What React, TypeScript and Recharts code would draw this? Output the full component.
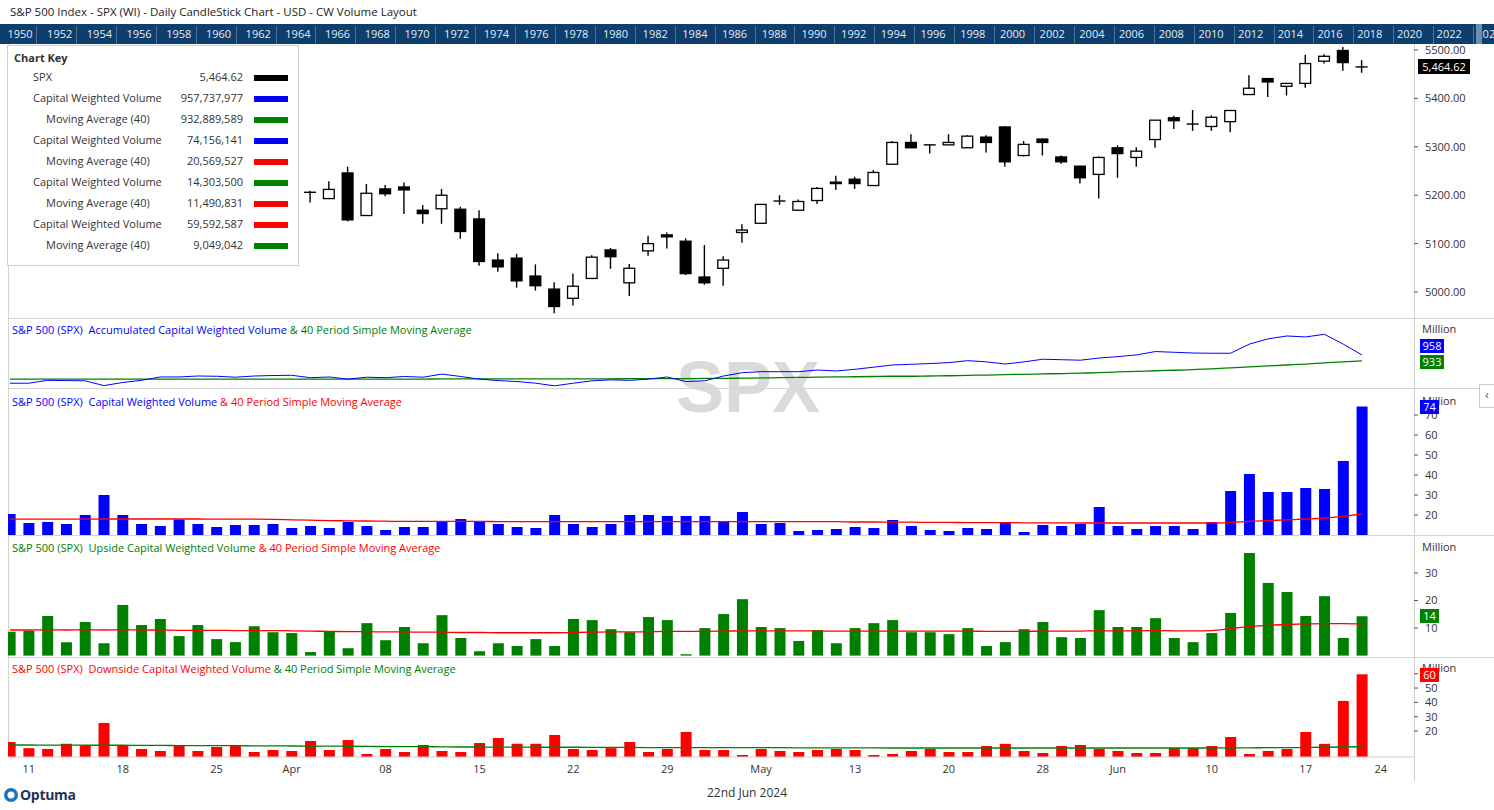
import React from 'react';
import { ComposedChart, Bar, Line, XAxis, YAxis } from 'recharts';

const FONT = "'Open Sans', 'Noto Sans', sans-serif";
const W = 1494;
const AXIS_W = 80;
const X_DOMAIN: [number, number] = [-0.107, 74.77];

// SPX daily candles, 8 Mar – 21 Jun 2024
const open = [5164, 5111, 5134, 5174, 5175, 5124, 5154, 5139, 5181, 5254, 5243, 5219, 5229, 5226, 5248, 5258,
  5206, 5193, 5246, 5158, 5213, 5217, 5169, 5172, 5171, 5151, 5066, 5070, 5033, 5006, 4987, 5028, 5087, 5019, 5085,
  5118, 5105, 5031, 5049, 5123, 5142, 5188, 5169, 5189, 5227, 5233, 5220, 5264, 5309, 5304, 5304, 5298, 5320, 5341,
  5282, 5316, 5279, 5260, 5243, 5298, 5278, 5315, 5360, 5347, 5342, 5352, 5408, 5441, 5425, 5431, 5477, 5499, 5465];
const high = [5189, 5125, 5179, 5180, 5179, 5136, 5176, 5179, 5225, 5262, 5246, 5230, 5236, 5249, 5264, 5263,
  5209, 5229, 5259, 5223, 5221, 5226, 5180, 5213, 5176, 5169, 5080, 5079, 5057, 5020, 5038, 5076, 5091, 5058, 5116,
  5123, 5111, 5097, 5074, 5140, 5182, 5200, 5191, 5217, 5240, 5238, 5252, 5312, 5326, 5305, 5326, 5324, 5324, 5343,
  5312, 5317, 5282, 5261, 5280, 5303, 5299, 5355, 5364, 5376, 5365, 5376, 5448, 5442, 5432, 5490, 5491, 5506, 5479];
const low = [5117, 5092, 5114, 5161, 5118, 5104, 5146, 5133, 5161, 5240, 5229, 5216, 5203, 5213, 5247, 5230,
  5185, 5192, 5146, 5157, 5198, 5161, 5141, 5141, 5110, 5054, 5042, 5009, 5003, 4956, 4972, 5028, 5048, 4992, 5075,
  5090, 5035, 5015, 5013, 5102, 5141, 5180, 5168, 5182, 5211, 5213, 5220, 5263, 5298, 5286, 5304, 5298, 5288, 5259,
  5280, 5282, 5265, 5224, 5193, 5236, 5259, 5298, 5337, 5333, 5333, 5330, 5408, 5403, 5406, 5422, 5472, 5457, 5453];
const close = [5124, 5117, 5175, 5165, 5150, 5117, 5149, 5179, 5225, 5241, 5234, 5218, 5204, 5248, 5254, 5243,
  5204, 5212, 5149, 5204, 5203, 5211, 5162, 5200, 5125, 5063, 5052, 5023, 5013, 4970, 5012, 5072, 5073, 5049, 5100,
  5114, 5038, 5019, 5066, 5128, 5181, 5187, 5187, 5214, 5224, 5224, 5247, 5309, 5298, 5303, 5309, 5322, 5309, 5269,
  5305, 5309, 5269, 5236, 5278, 5286, 5291, 5355, 5354, 5345, 5361, 5375, 5421, 5434, 5431, 5472, 5487, 5474, 5464.62];

// accumulated capital weighted volume (million) and its 40 period SMA
const accVol = [840, 840, 852, 851, 850, 830, 843, 852, 866, 866, 870, 869, 865, 870, 872, 873, 863, 866, 857, 865,
  863, 868, 865, 878, 868, 857, 851, 847, 840, 829, 840, 850, 854, 852, 857, 866, 847, 850, 870, 884,
  888, 888, 888, 895, 891, 898, 907, 916, 919, 922, 926, 934, 929, 920, 929, 940, 938, 936, 945, 951,
  958, 972, 969, 966, 965, 965, 1003, 1025, 1037, 1033, 1044, 1003, 958];
const accMA = [857, 857, 857, 857, 857, 857, 857, 857, 857, 857, 857, 857, 857, 857, 857, 857, 857, 857, 857, 857,
  857, 857, 857, 858, 858, 858, 858, 858, 858, 858, 858, 858, 858, 859, 859, 859, 859, 860, 860, 861,
  862, 863, 864, 865, 866, 867, 868, 869, 869, 870, 871, 873, 874, 876, 877, 879, 880, 882, 884, 887,
  889, 892, 894, 897, 900, 904, 908, 912, 916, 920, 925, 929, 933];

// capital weighted volume (million)
const cwVol = [20.5, 16, 16.5, 15.5, 20, 30, 20, 15.5, 14.5, 17.8, 15.5, 14, 15, 15, 15.5, 13.5, 14.5, 13.5, 16.5, 14.5,
  12.5, 14, 14, 17, 18, 17, 15.5, 14, 13.5, 20, 15.5, 14, 15.5, 20, 20, 19.5, 19.5, 19.5, 16.5, 21.5,
  15.5, 16, 12, 12.5, 13, 14, 13.5, 17.5, 14.5, 12.5, 12, 13.5, 13, 16.5, 11.5, 15, 14.5, 15.5, 24, 14.5,
  13, 14.5, 14.5, 13, 16.5, 32, 40.5, 31.5, 31.5, 33.5, 33, 47, 74.2];
const cwMA = [17.9, 17.9, 17.9, 17.9, 17.9, 18, 18, 18, 18, 18, 18, 17.9, 17.9, 17.9, 17.8, 17.6, 17.4, 17.2, 17.1, 17,
  16.9, 16.8, 16.8, 16.8, 16.8, 16.8, 16.7, 16.7, 16.7, 16.7, 16.7, 16.7, 16.7, 16.7, 16.7, 16.7, 16.7, 16.7, 16.7, 16.7,
  16.7, 16.7, 16.7, 16.7, 16.7, 16.5, 16.5, 16.4, 16.4, 16.3, 16.3, 16.2, 16.2, 16.2, 16.1, 16.1, 16.1, 16, 16, 16,
  16, 16, 16, 16, 16, 16.3, 16.8, 17.2, 17.6, 18, 18.5, 19.3, 20.6];

// upside capital weighted volume (million)
const upVol = [8.7, 9, 14.4, 4.9, 12.2, 4.5, 18.4, 11.1, 13.3, 7.1, 11.1, 6, 4.9, 10.7, 8.5, 8.2, 1.3, 8.9, 2.7, 11.8,
  5.6, 10.4, 4.5, 14.7, 6.4, 1.6, 4.5, 3.5, 6, 3.5, 13.3, 12.9, 9.6, 8.5, 14, 12.9, 0.5, 10, 15.1, 20.5,
  10.4, 10, 5.3, 9.3, 4.5, 10, 11.8, 12.9, 8.5, 8.5, 7.8, 10, 3.5, 4.9, 9.6, 12.2, 6.7, 6.4, 16.5, 10.4,
  10.4, 13.6, 6.4, 4.9, 8.2, 15.5, 37.3, 26.4, 23.1, 14.4, 21.6, 6.4, 14.3];
const upMA = [9.3, 9.3, 9.4, 9.3, 9.4, 9.3, 9.4, 9.3, 9.3, 9.2, 9.2, 9.2, 9.1, 9.1, 9.1, 9, 8.9, 8.8, 8.7, 8.7,
  8.6, 8.6, 8.5, 8.5, 8.4, 8.4, 8.3, 8.3, 8.3, 8.3, 8.4, 8.5, 8.6, 8.6, 8.7, 8.8, 8.8, 8.8, 8.9, 9,
  9, 9, 9, 8.9, 8.9, 8.9, 8.9, 8.9, 8.9, 8.9, 8.9, 8.9, 8.8, 8.8, 8.8, 8.9, 8.9, 8.9, 9, 9,
  9, 9.1, 9, 9, 9.1, 9.8, 10.5, 11, 11.3, 11.5, 11.6, 11.6, 11.5];

// downside capital weighted volume (million)
const downVol = [12.3, 8, 7.4, 11, 9.5, 25.6, 9.5, 7.4, 6, 10.2, 6, 8.8, 10.2, 5.3, 6.7, 6, 13, 6.7, 13.7, 3.9,
  7.4, 5.3, 10.2, 6, 5.3, 11.6, 15.1, 11, 11, 17.2, 7.4, 6.7, 8, 12.3, 5.3, 7.4, 19.3, 6.7, 6.7, 3.2,
  7.4, 6, 5.3, 6.7, 7.4, 6.7, 3.2, 3.9, 6, 7.4, 5.3, 5.3, 9.5, 11, 6, 4.6, 9.5, 10.2, 7.4, 6,
  4.6, 4.6, 8, 8, 9.5, 15.8, 3.9, 6, 7.4, 19.3, 11, 41, 59.6];
const downMA = [10.2, 10.2, 10.1, 10.1, 10, 10, 10, 9.9, 9.9, 9.8, 9.8, 9.7, 9.7, 9.6, 9.6, 9.5, 9.4, 9.4, 9.3, 9.2,
  9.1, 9, 9, 8.9, 8.8, 8.8, 8.7, 8.7, 8.6, 8.6, 8.6, 8.5, 8.5, 8.5, 8.4, 8.4, 8.4, 8.3, 8.3, 8.3,
  8.3, 8.3, 8.2, 8.2, 8.2, 8.2, 8.2, 8.1, 8.1, 8.1, 8.1, 8.1, 8.1, 8.1, 8.1, 8.1, 8.1, 8.1, 8.1, 8.1,
  8.1, 8.1, 8.1, 8.1, 8.1, 8.2, 8.2, 8.3, 8.3, 8.5, 8.6, 8.8, 9.05];

// date axis (index of trading day -> label)
const xTickIdx = [1, 6, 11, 15, 20, 25, 30, 35, 40, 45, 50, 55, 59, 64, 69, 73];
const xTickLabels = ['11', '18', '25', 'Apr', '08', '15', '22', '29', 'May', '13', '20', '28', 'Jun', '10', '17', '24'];

const priceTicks = [5000, 5100, 5200, 5300, 5400, 5500];
const cwTicks = [20, 30, 40, 50, 60, 70];
const upTicks = [10, 20, 30];
const downTicks = [20, 30, 40, 50, 60];

const years = ['1950', '1952', '1954', '1956', '1958', '1960', '1962', '1964', '1966', '1968', '1970', '1972', '1974',
  '1976', '1978', '1980', '1982', '1984', '1986', '1988', '1990', '1992', '1994', '1996', '1998', '2000', '2002', '2004',
  '2006', '2008', '2010', '2012', '2014', '2016', '2018', '2020', '2022', '2024'];

const keyRows = [
  { label: 'SPX', value: '5,464.62', color: '#000000', sub: false },
  { label: 'Capital Weighted Volume', value: '957,737,977', color: '#0000ff', sub: false },
  { label: 'Moving Average (40)', value: '932,889,589', color: '#008000', sub: true },
  { label: 'Capital Weighted Volume', value: '74,156,141', color: '#0000ff', sub: false },
  { label: 'Moving Average (40)', value: '20,569,527', color: '#ff0000', sub: true },
  { label: 'Capital Weighted Volume', value: '14,303,500', color: '#008000', sub: false },
  { label: 'Moving Average (40)', value: '11,490,831', color: '#ff0000', sub: true },
  { label: 'Capital Weighted Volume', value: '59,592,587', color: '#ff0000', sub: false },
  { label: 'Moving Average (40)', value: '9,049,042', color: '#008000', sub: true },
];

const rows = close.map((c, i) => ({
  i,
  open: open[i],
  high: high[i],
  low: low[i],
  close: c,
  range: [low[i], high[i]],
  acc: accVol[i],
  accMA: accMA[i],
  cw: cwVol[i],
  cwMA: cwMA[i],
  up: upVol[i],
  upMA: upMA[i],
  down: downVol[i],
  downMA: downMA[i],
}));

const Candle = (props: any) => {
  const { x, y, width, height, payload } = props;
  if (x == null || y == null) return null;
  const top = Math.min(y, y + height);
  const bot = Math.max(y, y + height);
  const k = (bot - top) / (payload.high - payload.low);
  const yO = top + (payload.high - payload.open) * k;
  const yC = top + (payload.high - payload.close) * k;
  const cx = x + width / 2;
  const rising = payload.close >= payload.open;
  const bTop = Math.min(yO, yC);
  const bH = Math.abs(yO - yC);
  return (
    <g>
      <line x1={cx} x2={cx} y1={top} y2={bot} stroke="#000" strokeWidth={1.4} />
      {bH < 1.2 ? (
        <line x1={x} x2={x + width} y1={bTop} y2={bTop} stroke="#000" strokeWidth={1.4} />
      ) : (
        <rect x={x + 0.6} y={bTop} width={width - 1.2} height={bH} fill={rising ? '#fff' : '#000'} stroke="#000" strokeWidth={1.3} />
      )}
    </g>
  );
};

const tickStyle = { fill: '#333', fontSize: 11, fontFamily: FONT };

function Panel({ top, height, domain, ticks, fmt, xAxis, children }: any) {
  return (
    <div style={{ position: 'absolute', left: 0, top }}>
      <ComposedChart width={W} height={height} data={rows} margin={{ top: 0, right: 0, bottom: 0, left: 8 }}>
        <XAxis
          type="number"
          dataKey="i"
          domain={X_DOMAIN}
          allowDataOverflow
          hide={!xAxis}
          height={24}
          ticks={xTickIdx}
          interval={0}
          tickFormatter={(v: number) => xTickLabels[xTickIdx.indexOf(v)]}
          tick={tickStyle}
          tickLine={false}
          axisLine={{ stroke: '#cfcfcf' }}
        />
        <YAxis
          orientation="right"
          width={AXIS_W}
          domain={domain}
          ticks={ticks}
          interval={0}
          allowDataOverflow
          axisLine={false}
          tickSize={4}
          tickMargin={7}
          tickLine={{ stroke: '#555' }}
          tick={tickStyle}
          tickFormatter={fmt}
        />
        {children}
      </ComposedChart>
    </div>
  );
}

const PanelTitle = ({ top, parts }: { top: number; parts: [string, string][] }) => (
  <div style={{ position: 'absolute', left: 12, top, fontSize: 11, fontFamily: FONT, whiteSpace: 'pre' }}>
    {parts.map(([t, c], k) => (
      <span key={k} style={{ color: c }}>{t}</span>
    ))}
  </div>
);

const ValueBox = ({ top, text, bg, width }: { top: number; text: string; bg: string; width: number }) => (
  <div style={{
    position: 'absolute', left: 1420, top, width, height: 14, background: bg, color: '#fff',
    fontSize: 11, lineHeight: '14px', textAlign: 'center', fontFamily: FONT,
  }}>{text}</div>
);

const Million = ({ top }: { top: number }) => (
  <div style={{ position: 'absolute', left: 1422, top, fontSize: 11, color: '#333', fontFamily: FONT }}>Million</div>
);

const hLine = (y: number) => (
  <div key={y} style={{ position: 'absolute', left: 8, top: y, width: W - 8, height: 1, background: '#d4d4d4' }} />
);

export default function App() {
  return (
    <div style={{ position: 'absolute', left: 0, top: 0, width: W, height: 810, background: '#fff', overflow: 'hidden', fontFamily: FONT }}>
      <style>{'.recharts-surface{overflow:visible}'}</style>
      {/* title */}
      <div style={{ position: 'absolute', left: 10, top: 4, fontSize: 11.5, color: '#222' }}>
        S&amp;P 500 Index - SPX (WI) - Daily CandleStick Chart - USD - CW Volume Layout
      </div>

      {/* year band */}
      <div style={{ position: 'absolute', left: 0, top: 24, width: W, height: 20, background: '#0d3e6e', overflow: 'hidden' }}>
        {years.map((yr, k) => (
          <React.Fragment key={yr}>
            <div style={{ position: 'absolute', left: 36 + k * 39.92, top: 2, width: 1, height: 18, background: '#4f7299' }} />
            <div style={{ position: 'absolute', left: k * 39.7, width: 40, top: 2, textAlign: 'center', fontSize: 11, color: '#e4ecf4' }}>{yr}</div>
          </React.Fragment>
        ))}
        <div style={{ position: 'absolute', left: 1476, top: 0, width: 6, height: 20, background: '#6d8db0' }} />
      </div>

      {/* watermark */}
      <div style={{
        position: 'absolute', left: 0, width: 1496, top: 346, textAlign: 'center', fontSize: 72, fontWeight: 700,
        fontFamily: "'Liberation Sans', Arial, sans-serif", color: '#dadada',
      }}>SPX</div>

      {/* frame lines */}
      {[318, 388, 535, 657].map(hLine)}
      <div style={{ position: 'absolute', left: 8, top: 44, width: 1, height: 713, background: '#d4d4d4' }} />
      <div style={{ position: 'absolute', left: 1414, top: 44, width: 1, height: 737, background: '#cfcfcf' }} />

      {/* price panel */}
      <Panel top={44} height={274} domain={[4946.3, 5512.4]} ticks={priceTicks} fmt={(v: number) => v.toFixed(2)}>
        <Bar dataKey="range" barSize={12} shape={<Candle />} isAnimationActive={false} />
      </Panel>

      {/* accumulated CW volume */}
      <Panel top={318} height={70} domain={[820, 1112]} ticks={[]}>
        <Line dataKey="accMA" stroke="#008000" strokeWidth={1.3} dot={false} type="monotone" isAnimationActive={false} />
        <Line dataKey="acc" stroke="#0000ff" strokeWidth={1} dot={false} type="linear" isAnimationActive={false} />
      </Panel>

      {/* CW volume */}
      <Panel top={388} height={147} domain={[10, 83.5]} ticks={cwTicks}>
        <Bar dataKey="cw" fill="#0000ff" barSize={11} isAnimationActive={false} />
        <Line dataKey="cwMA" stroke="#ff0000" strokeWidth={1.3} dot={false} type="monotone" isAnimationActive={false} />
      </Panel>

      {/* upside volume */}
      <Panel top={535} height={122} domain={[-0.5, 43.8]} ticks={upTicks}>
        <Bar dataKey="up" fill="#008000" barSize={11} isAnimationActive={false} />
        <Line dataKey="upMA" stroke="#ff0000" strokeWidth={1.3} dot={false} type="monotone" isAnimationActive={false} />
      </Panel>

      {/* downside volume + date axis */}
      <Panel top={657} height={124} domain={[1.8, 71.7]} ticks={downTicks} xAxis>
        <Bar dataKey="down" fill="#ff0000" barSize={11} isAnimationActive={false} />
        <Line dataKey="downMA" stroke="#008000" strokeWidth={1.3} dot={false} type="monotone" isAnimationActive={false} />
      </Panel>

      {/* panel titles */}
      <PanelTitle top={322} parts={[['S&P 500 (SPX)  Accumulated Capital Weighted Volume', '#0000ff'], [' & 40 Period Simple Moving Average', '#008000']]} />
      <PanelTitle top={394} parts={[['S&P 500 (SPX)  Capital Weighted Volume', '#0000ff'], [' & 40 Period Simple Moving Average', '#ff0000']]} />
      <PanelTitle top={540} parts={[['S&P 500 (SPX)  Upside Capital Weighted Volume', '#008000'], [' & 40 Period Simple Moving Average', '#ff0000']]} />
      <PanelTitle top={661} parts={[['S&P 500 (SPX)  Downside Capital Weighted Volume', '#ff0000'], [' & 40 Period Simple Moving Average', '#008000']]} />

      {/* right axis labels */}
      <Million top={321} />
      <Million top={393} />
      <Million top={539} />
      <Million top={660} />
      <div style={{
        position: 'absolute', left: 1418, top: 59, width: 52, height: 15, background: '#000', color: '#fff',
        fontSize: 11, lineHeight: '15px', textAlign: 'center',
      }}>5,464.62</div>
      <ValueBox top={339} text="958" bg="#0000ff" width={24} />
      <ValueBox top={355} text="933" bg="#008000" width={24} />
      <ValueBox top={400} text="74" bg="#0000ff" width={19} />
      <ValueBox top={609} text="14" bg="#008000" width={19} />
      <ValueBox top={668} text="60" bg="#ff0000" width={19} />
      <div style={{
        position: 'absolute', left: 1479, top: 384, width: 14, height: 22, border: '1px solid #ccc', background: '#fff',
        fontSize: 12, lineHeight: '20px', textAlign: 'center', color: '#555',
      }}>‹</div>

      {/* chart key */}
      <div style={{
        position: 'absolute', left: 7, top: 45, width: 290, height: 219, border: '1px solid #cfcfcf', background: '#fff',
        fontSize: 11, color: '#333',
      }}>
        <div style={{ position: 'absolute', left: 6, top: 4, fontWeight: 700 }}>Chart Key</div>
        {keyRows.map((r, k) => (
          <React.Fragment key={k}>
            <div style={{ position: 'absolute', left: r.sub ? 38 : 25, top: 23 + k * 21 }}>{r.label}</div>
            <div style={{ position: 'absolute', right: 55, top: 23 + k * 21 }}>{r.value}</div>
            <div style={{ position: 'absolute', left: 246, top: 29 + k * 21, width: 34, height: 6, background: r.color }} />
          </React.Fragment>
        ))}
      </div>

      {/* footer */}
      <div style={{ position: 'absolute', left: 3, top: 785, display: 'flex', alignItems: 'center' }}>
        <svg width={16} height={16}>
          <circle cx={8} cy={8} r={7} fill="#1b75bc" />
          <circle cx={8} cy={8} r={3.5} fill="#fff" />
        </svg>
        <span style={{ fontSize: 14, fontWeight: 700, color: '#1d3557', marginLeft: 1, letterSpacing: -0.3 }}>Optuma</span>
      </div>
      <div style={{ position: 'absolute', left: 0, width: W, top: 784, textAlign: 'center', fontSize: 12, color: '#333' }}>22nd Jun 2024</div>
    </div>
  );
}
